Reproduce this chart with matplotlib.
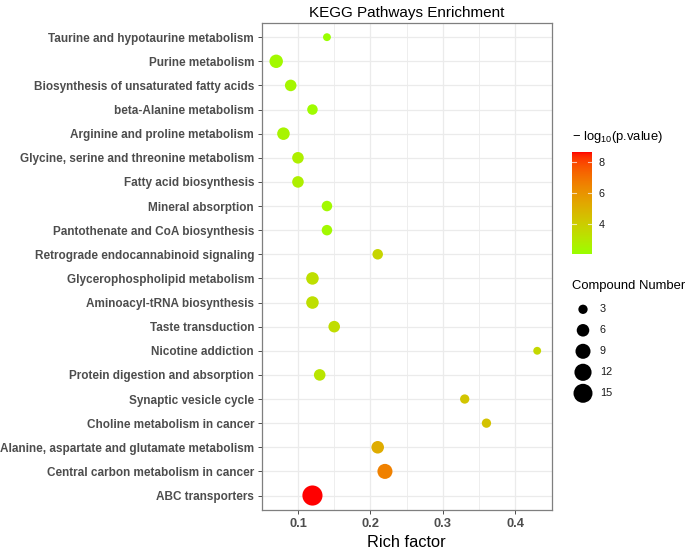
import numpy as np
import matplotlib
matplotlib.use("Agg")
import matplotlib.pyplot as plt
from matplotlib.colors import ListedColormap, Normalize

plt.rcParams['font.family'] = ['Liberation Sans', 'DejaVu Sans']
plt.rcParams['mathtext.fontset'] = 'custom'
plt.rcParams['mathtext.rm'] = 'Liberation Sans'
plt.rcParams['mathtext.it'] = 'Liberation Sans:italic'

# ---------------- data ----------------
pathways = [
    "Taurine and hypotaurine metabolism",
    "Purine metabolism",
    "Biosynthesis of unsaturated fatty acids",
    "beta-Alanine metabolism",
    "Arginine and proline metabolism",
    "Glycine, serine and threonine metabolism",
    "Fatty acid biosynthesis",
    "Mineral absorption",
    "Pantothenate and CoA biosynthesis",
    "Retrograde endocannabinoid signaling",
    "Glycerophospholipid metabolism",
    "Aminoacyl-tRNA biosynthesis",
    "Taste transduction",
    "Nicotine addiction",
    "Protein digestion and absorption",
    "Synaptic vesicle cycle",
    "Choline metabolism in cancer",
    "Alanine, aspartate and glutamate metabolism",
    "Central carbon metabolism in cancer",
    "ABC transporters",
]
rich_factor = [0.14, 0.07, 0.09, 0.12, 0.08, 0.10, 0.10, 0.14, 0.14, 0.21,
               0.12, 0.12, 0.15, 0.43, 0.13, 0.33, 0.36, 0.21, 0.22, 0.12]
compound_number = [2, 7, 5, 4, 6, 5, 5, 4, 4, 4,
                   6, 6, 5, 2, 5, 3, 3, 6, 9, 17]
neg_log10_p = [2.05, 2.3, 2.4, 2.2, 2.5, 2.7, 2.7, 2.3, 2.3, 3.7,
               3.3, 3.3, 3.4, 3.6, 3.1, 4.3, 4.4, 5.2, 6.6, 8.67]
x_ticks = [0.1, 0.2, 0.3, 0.4]
size_breaks = [3, 6, 9, 12, 15]
color_ticks = [4, 6, 8]

# ---------------- colour scale (Lab interpolation like ggplot) ----------------
def hex2rgb(h):
    h = h.lstrip('#')
    return np.array([int(h[i:i+2], 16) / 255 for i in (0, 2, 4)])

M = np.array([[0.4124, 0.3576, 0.1805], [0.2126, 0.7152, 0.0722], [0.0193, 0.1192, 0.9505]])
WP = np.array([0.95047, 1.0, 1.08883])

def rgb2lab(c):
    lin = np.where(c <= 0.04045, c / 12.92, ((c + 0.055) / 1.055) ** 2.4)
    xyz = M @ lin / WP
    f = np.where(xyz > 0.008856, np.cbrt(xyz), 7.787 * xyz + 16 / 116)
    return np.array([116 * f[1] - 16, 500 * (f[0] - f[1]), 200 * (f[1] - f[2])])

def lab2rgb(lab):
    L, a, b = lab
    fy_ = (L + 16) / 116
    fx_ = fy_ + a / 500
    fz_ = fy_ - b / 200
    f = np.array([fx_, fy_, fz_])
    xyz = np.where(f ** 3 > 0.008856, f ** 3, (f - 16 / 116) / 7.787) * WP
    lin = np.linalg.solve(M, xyz)
    lin = np.clip(lin, 0, 1)
    c = np.where(lin <= 0.0031308, 12.92 * lin, 1.055 * lin ** (1 / 2.4) - 0.055)
    return np.clip(c, 0, 1)

lo, hi = rgb2lab(hex2rgb('#9AFF00')), rgb2lab(hex2rgb('#FF0000'))
cmap = ListedColormap([lab2rgb(lo + (hi - lo) * t) for t in np.linspace(0, 1, 256)])
vmin, vmax = min(neg_log10_p), max(neg_log10_p)
norm = Normalize(vmin=vmin, vmax=vmax)

# size mapping (diameter in px linear in sqrt(n)), 1 px = 0.72 pt at dpi 100
def diam_px(n):
    return 1.45 + 4.53 * np.sqrt(np.asarray(n, dtype=float))

def s_area(n):
    return (diam_px(n) * 0.72) ** 2

# ---------------- figure ----------------
W, H = 685, 552
fig = plt.figure(figsize=(W / 100, H / 100), dpi=100)

def fx(px):
    return px / W

def fy(py):
    return 1 - py / H

ax_l, ax_r, ax_t, ax_b = 261.7, 551.7, 22.7, 510.0
ax = fig.add_axes([fx(ax_l), fy(ax_b), fx(ax_r - ax_l), (ax_b - ax_t) / H])

ypos = np.arange(len(pathways))[::-1]
ax.scatter(rich_factor, ypos, s=s_area(compound_number), c=neg_log10_p,
           cmap=cmap, norm=norm, edgecolors='none', zorder=3)

xr = max(rich_factor) - min(rich_factor)
ax.set_xlim(min(rich_factor) - 0.05 * xr, max(rich_factor) + 0.05 * xr)
ax.set_ylim(-0.6, len(pathways) - 0.4)
ax.set_yticks(ypos)
ax.set_yticklabels(pathways, fontsize=8.45, fontweight='bold', color='#4D4D4D')
ax.set_xticks(x_ticks)
ax.set_xticklabels([f'{t:g}' for t in x_ticks], fontsize=9.3, fontweight='bold', color='#4D4D4D')
ax.set_xticks([0.05, 0.15, 0.25, 0.35, 0.45], minor=True)
ax.tick_params(axis='both', which='major', length=3, width=0.7, color='#4D4D4D', pad=2.5)
ax.tick_params(axis='x', which='minor', length=0)
ax.grid(True, which='major', color='#EBEBEB', linewidth=0.9, zorder=0)
ax.grid(True, which='minor', axis='x', color='#EBEBEB', linewidth=0.6, zorder=0)
ax.set_axisbelow(True)
for sp in ax.spines.values():
    sp.set_color('#7F7F7F')
    sp.set_linewidth(0.9)

ax.set_xlabel('Rich factor', fontsize=11.8, labelpad=4)
ax.set_title('KEGG Pathways Enrichment', fontsize=11.0, pad=4)

# ---------------- colorbar legend ----------------
cb_l, cb_r, cb_t, cb_b = 571.7, 591.7, 152.0, 254.0
cax = fig.add_axes([fx(cb_l), fy(cb_b), fx(cb_r - cb_l), (cb_b - cb_t) / H])
grad = np.linspace(vmin, vmax, 256).reshape(-1, 1)
cax.imshow(grad, aspect='auto', cmap=cmap, norm=norm, origin='lower',
           extent=[0, 1, vmin, vmax])
cax.set_xlim(0, 1)
cax.set_ylim(vmin, vmax)
cax.set_xticks([])
cax.yaxis.tick_right()
cax.set_yticks(color_ticks)
cax.set_yticklabels([str(t) for t in color_ticks], fontsize=7.8, color='#1A1A1A')
cax.tick_params(axis='y', length=0, pad=5)
for t in color_ticks:
    cax.plot([0, 0.2], [t, t], color='white', lw=0.8, alpha=0.7)
    cax.plot([0.8, 1], [t, t], color='white', lw=0.8, alpha=0.7)
for sp in cax.spines.values():
    sp.set_visible(False)
fig.text(fx(572), fy(137), r'$-$ log$_{10}$(p.value)', fontsize=9.4,
         ha='left', va='center')

# ---------------- size legend ----------------
fig.text(fx(572), fy(286), 'Compound Number', fontsize=9.4, ha='left', va='center')
sax = fig.add_axes([0, 0, 1, 1], facecolor='none')
sax.set_xlim(0, W)
sax.set_ylim(H, 0)
sax.axis('off')
leg_y = [309.3 + 21 * i for i in range(len(size_breaks))]
sax.scatter([583] * len(size_breaks), leg_y, s=s_area(size_breaks), c='black',
            edgecolors='none')
for b, yy in zip(size_breaks, leg_y):
    sax.text(600, yy, str(b), fontsize=7.8, ha='left', va='center', color='#1A1A1A')

fig.savefig('out.png', dpi=100)
